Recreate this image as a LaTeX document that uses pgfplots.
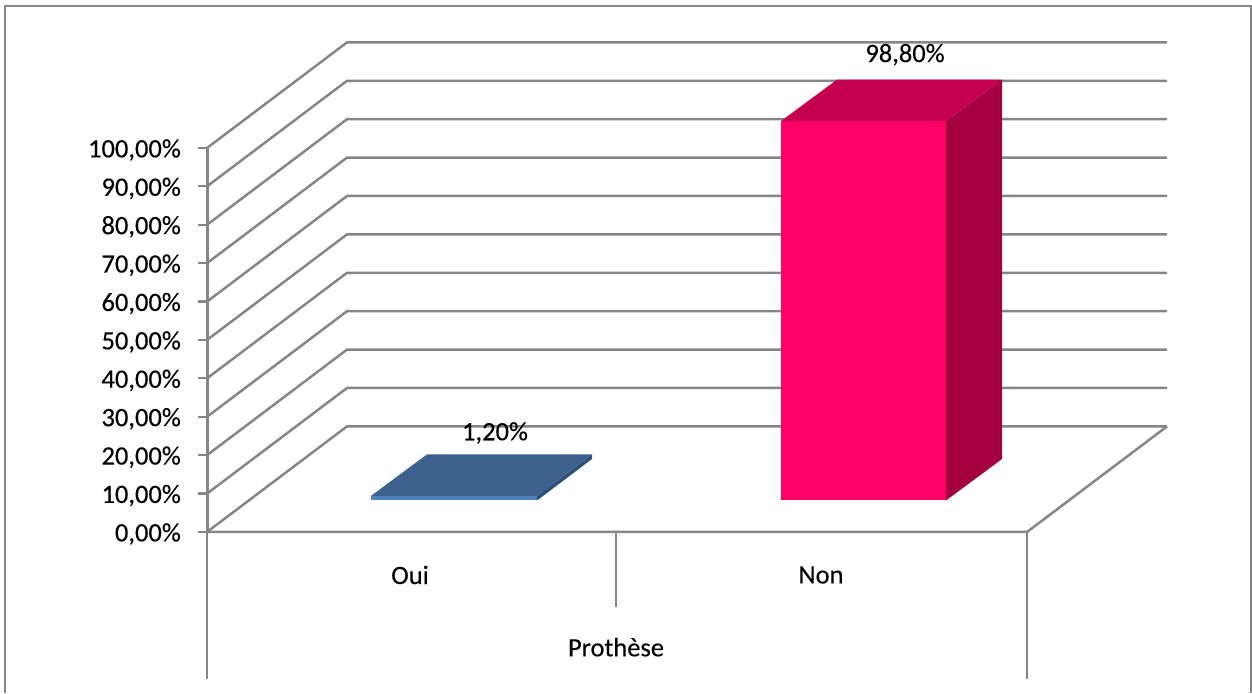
\documentclass[border=0pt]{standalone}
\usepackage{pgfplots}
\pgfplotsset{compat=1.18}
\usepackage{fontspec}
\setmainfont{Carlito}[FakeBold=0.25]
\definecolor{gridgray}{HTML}{868686}
\definecolor{nonfront}{HTML}{FF0066}
\definecolor{nontop}{HTML}{C4004F}
\definecolor{nonside}{HTML}{A5003F}
\definecolor{ouifront}{HTML}{4F81BD}
\definecolor{ouitop}{HTML}{3C618D}
\definecolor{ouiside}{HTML}{2F4F77}
\pgfplotsset{
  wall/.style={draw=gridgray, line width=2.5pt, no markers, forget plot},
  face/.style={fill=#1, draw=none, no markers, forget plot, yshift=31.5pt},
}
\begin{document}
\begin{tikzpicture}[font=\fontsize{26.5}{30}\selectfont]
\useasboundingbox (-207pt,-161pt) rectangle (1045pt,532pt);
\begin{axis}[
  at={(0pt,0pt)}, anchor=south west,
  scale only axis, width=960pt, height=384pt,
  xmin=207, xmax=1167, ymin=0, ymax=100,
  clip=false,
  axis x line=none,
  axis y line=left,
  axis line style={-, draw=gridgray, line width=3pt},
  ytick={0,10,...,100},
  tick align=outside,
  major tick length=9pt,
  tick style={draw=gridgray, line width=2.2pt},
  yticklabel style={inner sep=0pt, xshift=-17pt, yshift=-2pt, text=black,
    /pgf/number format/.cd, fixed, fixed zerofill, precision=2, use comma, assume math mode=true},
  yticklabel={\pgfmathprintnumber{\tick}\%},
]
% outer chart frame
\addplot[draw=gridgray, line width=2.5pt, no markers, forget plot]
  coordinates {(5,-41.9)(5,137)(1251,137)(1251,-41.9)};

% back wall and side wall gridlines
\addplot[wall] coordinates {(207,0)(347,27.5)(1167,27.5)};
\addplot[wall] coordinates {(207,10)(347,37.5)(1167,37.5)};
\addplot[wall] coordinates {(207,20)(347,47.5)(1167,47.5)};
\addplot[wall] coordinates {(207,30)(347,57.5)(1167,57.5)};
\addplot[wall] coordinates {(207,40)(347,67.5)(1167,67.5)};
\addplot[wall] coordinates {(207,50)(347,77.5)(1167,77.5)};
\addplot[wall] coordinates {(207,60)(347,87.5)(1167,87.5)};
\addplot[wall] coordinates {(207,70)(347,97.5)(1167,97.5)};
\addplot[wall] coordinates {(207,80)(347,107.5)(1167,107.5)};
\addplot[wall] coordinates {(207,90)(347,117.5)(1167,117.5)};
\addplot[wall] coordinates {(207,100)(347,127.5)(1167,127.5)};

% floor edges and category dividers
\addplot[wall] coordinates {(207,0)(1027,0)(1167,27.5)};
\addplot[wall] coordinates {(207,0)(207,-38.3)};
\addplot[wall] coordinates {(1027,0)(1027,-38.3)};
\addplot[wall] coordinates {(616,0)(616,-19.5)};

% Oui: 1,20 %
\addplot[face=ouifront] coordinates {(371,0)(537,0)(537,1.2)(371,1.2)};
\addplot[face=ouiside] coordinates {(537,0)(592,10.8)(592,12)(537,1.2)};
\addplot[face=ouitop] coordinates {(371,1.2)(537,1.2)(592,12)(427,12)};

% Non: 98,80 %
\addplot[face=nonfront] coordinates {(781,0)(946,0)(946,98.8)(781,98.8)};
\addplot[face=nonside] coordinates {(946,0)(1002,10.8)(1002,109.6)(946,98.8)};
\addplot[face=nontop] coordinates {(781,98.8)(946,98.8)(1002,109.6)(837,109.6)};

% value and category labels
\node[inner sep=0pt] at (axis cs:495,25.8) {1,20\%};
\node[inner sep=0pt] at (axis cs:905,124.3) {98,80\%};
\node[inner sep=0pt] at (axis cs:410,-11.2) {Oui};
\node[inner sep=0pt] at (axis cs:821,-11.2) {Non};
\node[inner sep=0pt] at (axis cs:616,-30.0) {Prothèse};
\end{axis}
\end{tikzpicture}
\end{document}
